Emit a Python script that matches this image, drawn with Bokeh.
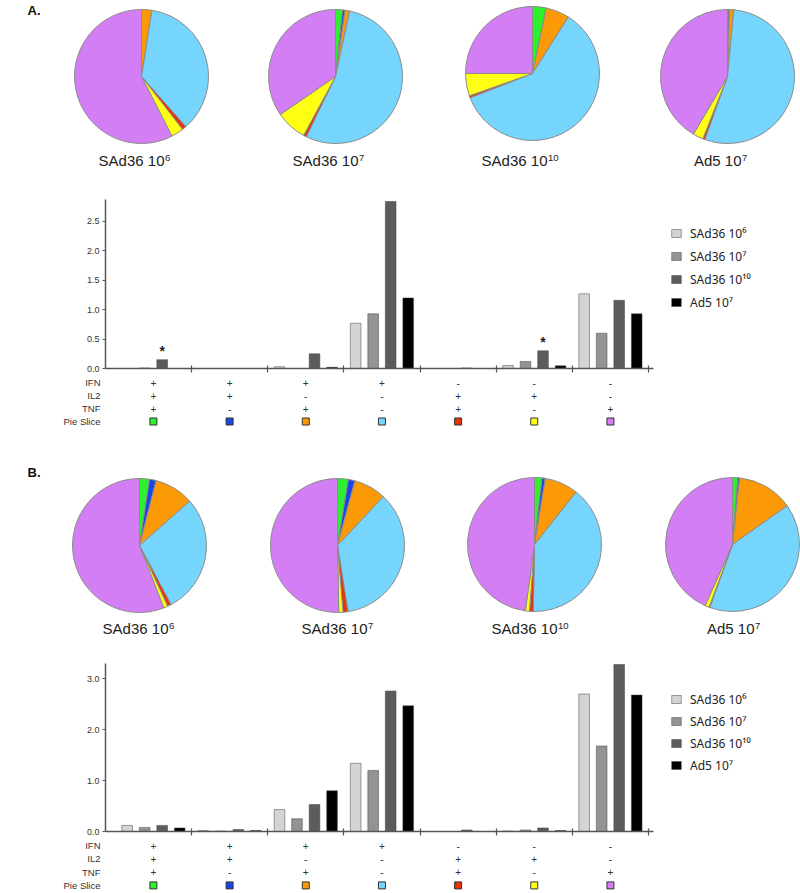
import math
from bokeh.plotting import figure
from bokeh.models import (Range1d, FixedTicker, Legend, LegendItem, ColumnDataSource,
                          Label, NumeralTickFormatter)
from bokeh.layouts import column
from bokeh.embed import file_html
from bokeh.resources import INLINE
from bokeh.core.properties import value

# ---------------- data ----------------
groups = [1, 2, 3, 4, 5, 6, 7]
ifn = ["+", "+", "+", "+", "-", "-", "-"]
il2 = ["+", "+", "-", "-", "+", "+", "-"]
tnf = ["+", "-", "+", "-", "+", "-", "+"]
row_names = ["IFN", "IL2", "TNF", "Pie Slice"]
slice_colors = ["#2ef02e", "#1a44e6", "#fb9a06", "#75d5fc", "#e8320c", "#ffff14", "#d47ef5"]

series_base = ["SAd36 10", "SAd36 10", "SAd36 10", "Ad5 10"]
series_exp = ["6", "7", "10", "7"]
series_labels = ["SAd36 10⁶", "SAd36 10⁷", "SAd36 10¹⁰", "Ad5 10⁷"]
series_colors = ["#d4d4d4", "#939393", "#5c5c5c", "#000000"]

# panel A bar values (per series, per group)
a_sad36_1e6 = [0.0, 0.0, 0.03, 0.77, 0.0, 0.05, 1.27]
a_sad36_1e7 = [0.01, 0.0, 0.0, 0.93, 0.0, 0.12, 0.60]
a_sad36_1e10 = [0.15, 0.0, 0.25, 2.84, 0.01, 0.30, 1.16]
a_ad5_1e7 = [0.0, 0.0, 0.02, 1.20, 0.0, 0.045, 0.93]
a_stars = [(1, 2), (6, 2)]  # (group, series index) marked significant

# panel B bar values
b_sad36_1e6 = [0.12, 0.02, 0.43, 1.34, 0.0, 0.01, 2.70]
b_sad36_1e7 = [0.08, 0.01, 0.25, 1.20, 0.0, 0.03, 1.68]
b_sad36_1e10 = [0.12, 0.04, 0.53, 2.76, 0.03, 0.07, 3.28]
b_ad5_1e7 = [0.07, 0.02, 0.80, 2.47, 0.0, 0.02, 2.68]

# pie slice percentages (green, blue, orange, light blue, red, yellow, purple)
pie_a_sad36_1e6 = [0.0, 0.0, 2.5, 36.0, 1.0, 3.0, 57.5]
pie_a_sad36_1e7 = [1.7, 0.6, 1.1, 53.8, 0.7, 7.5, 34.6]
pie_a_sad36_1e10 = [3.3, 0.0, 5.7, 60.1, 0.5, 5.4, 25.0]
pie_a_ad5_1e7 = [0.2, 0.3, 1.0, 54.0, 0.5, 2.5, 41.5]
pie_b_sad36_1e6 = [2.4, 1.6, 9.5, 28.7, 0.9, 1.0, 55.9]
pie_b_sad36_1e7 = [2.6, 1.6, 7.8, 35.5, 1.2, 1.0, 50.3]
pie_b_sad36_1e10 = [1.8, 0.8, 8.1, 39.6, 0.9, 1.0, 47.8]
pie_b_ad5_1e7 = [1.3, 0.4, 13.5, 40.3, 0.2, 1.0, 43.3]

# ---------------- styling / layout ----------------
FONT = "Liberation Sans"
LEGEND_FONT = "Noto Sans"
W = 800
LEFT = 105
PX_PER_GROUP = 76.17
X0 = 1.5 - (191 - LEFT) / PX_PER_GROUP
X1 = X0 + (W - LEFT) / PX_PER_GROUP
offsets = [-0.345, -0.115, 0.115, 0.345]
BAR_W = 0.14


def make_pies(top, height, centers, radius, pies, label_y, label_anchor_dx,
              panel_label, panel_label_y):
    p = figure(width=W, height=height, x_range=Range1d(0, W),
               y_range=Range1d(-(top + height), -top), x_axis_type=None, y_axis_type=None,
               output_backend="svg", toolbar_location=None, min_border=0, frame_align=False)
    p.grid.visible = False
    p.outline_line_color = None
    for (cx, cy), fr, base, exp, adx in zip(centers, pies, series_base, series_exp,
                                            label_anchor_dx):
        total = float(sum(fr))
        starts, ends, cols = [], [], []
        cum = 0.0
        for v, c in zip(fr, slice_colors):
            if v <= 0:
                continue
            a0 = cum / total
            cum += v
            a1 = cum / total
            starts.append(math.pi / 2 - 2 * math.pi * a1)
            ends.append(math.pi / 2 - 2 * math.pi * a0)
            cols.append(c)
        src = ColumnDataSource(dict(start=starts, end=ends, color=cols))
        p.wedge(x=cx, y=-cy, radius=radius, start_angle="start", end_angle="end",
                fill_color="color", line_color="#8c8c8c", line_width=1, source=src)
        p.text(x=[cx + adx], y=[-label_y], text=[base], text_align="right",
               text_baseline="middle", text_font=value(FONT), text_font_size="15px",
               text_color="#222222")
        p.text(x=[cx + adx + 0.5], y=[-(label_y - 3)], text=[exp], text_align="left",
               text_baseline="middle", text_font=value(FONT), text_font_size="9.5px",
               text_color="#222222")
    p.add_layout(Label(x=27, y=-panel_label_y, text=panel_label, text_font=FONT,
                       text_font_style="bold", text_font_size="13px", text_color="#111111",
                       text_baseline="middle", text_align="left"))
    return p


def make_bars(height, ymax, yticks, series, stars, legend_spacing):
    p = figure(width=W, height=height, x_range=Range1d(X0, X1), y_range=Range1d(0, ymax),
               output_backend="svg", toolbar_location=None, frame_align=False,
               min_border_left=LEFT, min_border_right=0, min_border_top=13, min_border_bottom=6)
    p.grid.visible = False
    p.outline_line_color = None
    renderers = []
    for s, (vals, col) in enumerate(zip(series, series_colors)):
        r = p.vbar(x=[g + offsets[s] for g in groups], top=vals, width=BAR_W,
                   fill_color=col, line_color="#444444", line_width=0.5)
        renderers.append(r)
    for g, s in stars:
        p.text(x=[g + offsets[s]], y=[series[s][g - 1]], text=["*"], text_align="center",
               text_baseline="bottom", y_offset=-1, text_font=value(FONT),
               text_font_size="14px", text_font_style="bold", text_color="#222222")
    xa = p.xaxis[0]
    bounds_ticks = [g + 0.5 for g in groups]
    xa.ticker = FixedTicker(ticks=bounds_ticks)
    xa.bounds = (X0, bounds_ticks[-1] + 0.07)
    xa.major_label_overrides = {t: "" for t in bounds_ticks}
    xa.major_label_text_font_size = "1px"
    xa.major_label_standoff = 0
    xa.major_tick_in = 3
    xa.major_tick_out = 4
    xa.minor_tick_in = 0
    xa.minor_tick_out = 0
    xa.axis_line_color = "#555555"
    xa.axis_line_width = 1.5
    xa.major_tick_line_color = "#555555"
    xa.major_tick_line_width = 1.2
    ya = p.yaxis[0]
    ya.ticker = FixedTicker(ticks=yticks)
    ya.formatter = NumeralTickFormatter(format="0.0")
    ya.major_tick_in = 0
    ya.major_tick_out = 3
    ya.minor_tick_in = 0
    ya.minor_tick_out = 0
    ya.axis_line_color = "#555555"
    ya.axis_line_width = 1.5
    ya.major_tick_line_color = "#555555"
    ya.major_label_text_font = FONT
    ya.major_label_text_font_size = "9px"
    ya.major_label_text_color = "#333333"
    ya.major_label_standoff = 3
    legend = Legend(items=[LegendItem(label=lab, renderers=[r])
                           for lab, r in zip(series_labels, renderers)],
                    location=(670 - LEFT, 56), padding=0, margin=0, spacing=legend_spacing,
                    label_height=20, glyph_height=10, glyph_width=12, label_standoff=8,
                    border_line_alpha=0, background_fill_alpha=0,
                    label_text_font=LEGEND_FONT, label_text_font_size="12px",
                    label_text_color="#222222")
    p.add_layout(legend)
    return p


def make_table(height, y_start, y_end):
    p = figure(width=W, height=height, x_range=Range1d(X0, X1), y_range=Range1d(y_end, y_start),
               x_axis_type=None, output_backend="svg", toolbar_location=None, frame_align=False,
               min_border_left=LEFT, min_border_right=0, min_border_top=0, min_border_bottom=0)
    p.grid.visible = False
    p.outline_line_color = None
    ya = p.yaxis[0]
    ya.ticker = FixedTicker(ticks=[3, 2, 1, 0])
    ya.major_label_overrides = {3: row_names[0], 2: row_names[1], 1: row_names[2], 0: row_names[3]}
    ya.axis_line_alpha = 0
    ya.major_tick_line_alpha = 0
    ya.minor_tick_line_alpha = 0
    ya.major_tick_in = 0
    ya.major_tick_out = 0
    ya.major_label_standoff = 5
    ya.major_label_text_font = FONT
    ya.major_label_text_font_size = "9.5px"
    ya.major_label_text_color = "#333333"
    for row_y, signs in zip([3, 2, 1], [ifn, il2, tnf]):
        p.text(x=groups, y=[row_y] * len(groups), text=signs, text_align="center",
               text_baseline="middle", text_font=value(FONT), text_font_size="10px",
               text_color="#333333")
    p.scatter(x=groups, y=[0] * len(groups), marker="square", size=7,
              fill_color=slice_colors, line_color="#333333", line_width=1)
    return p


pies_a = make_pies(0, 186, [(141, 76), (335, 76), (532, 73), (727, 76)], 67,
                   [pie_a_sad36_1e6, pie_a_sad36_1e7, pie_a_sad36_1e10, pie_a_ad5_1e7],
                   160, [23, 23, 15, 14], "A.", 10)
bars_a = make_bars(188, 2.874, [0, 0.5, 1.0, 1.5, 2.0, 2.5],
                   [a_sad36_1e6, a_sad36_1e7, a_sad36_1e10, a_ad5_1e7], a_stars, 3)
table_a = make_table(56, 3 + 8 / 13, 3 + 8 / 13 - 56 / 13)

pies_b = make_pies(430, 220, [(139, 545), (337, 545), (534, 544), (732, 544)], 67,
                   [pie_b_sad36_1e6, pie_b_sad36_1e7, pie_b_sad36_1e10, pie_b_ad5_1e7],
                   628, [29, 30, 23, 22], "B.", 472)
bars_b = make_bars(187, 3.30, [0, 1.0, 2.0, 3.0],
                   [b_sad36_1e6, b_sad36_1e7, b_sad36_1e10, b_ad5_1e7], [], 2)
table_b = make_table(56, 3 + 8 / 13.3, 3 + 8 / 13.3 - 56 / 13.3)

layout = column(pies_a, bars_a, table_a, pies_b, bars_b, table_b, spacing=0)

with open("out.html", "w") as f:
    f.write(file_html(layout, INLINE))
